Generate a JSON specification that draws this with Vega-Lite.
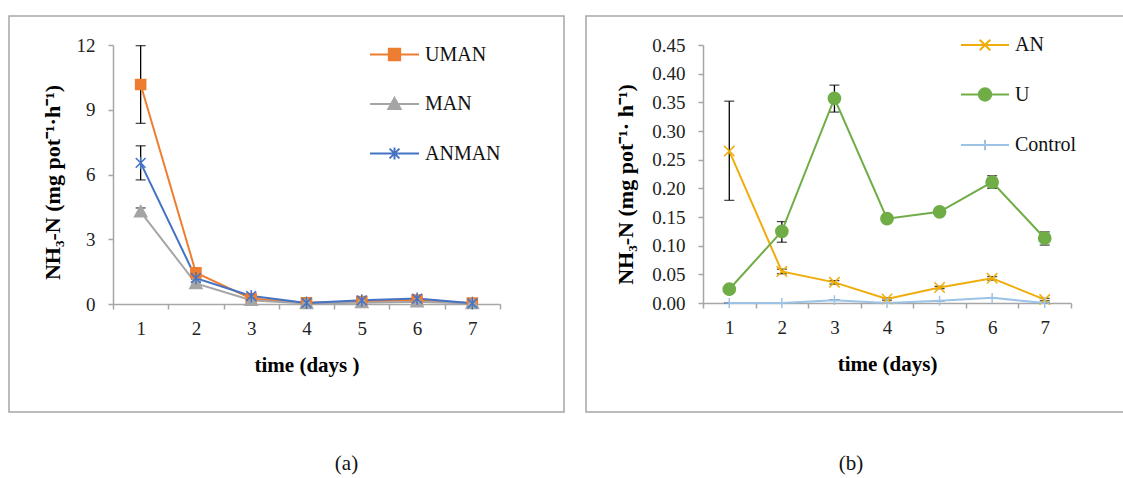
{
  "$schema": "https://vega.github.io/schema/vega-lite/v6.json",
  "padding": {"left": 8, "top": 15, "right": 0, "bottom": 0},
  "spacing": 20,
  "background": "white",
  "config": {
    "view": {"stroke": "#A6A6A6", "strokeWidth": 1.5},
    "axis": {
      "grid": false,
      "domainColor": "#A6A6A6",
      "domainWidth": 1.5,
      "tickColor": "#A6A6A6",
      "tickWidth": 1.5,
      "tickSize": 5,
      "labelFont": "Liberation Serif",
      "labelFontSize": 19,
      "labelColor": "#222222",
      "titleFont": "Liberation Serif",
      "titleFontSize": 21,
      "titleFontWeight": "bold",
      "titleColor": "#000000"
    },
    "legend": {
      "labelFont": "Liberation Serif",
      "labelFontSize": 20,
      "labelColor": "#111111",
      "padding": 0,
      "symbolStrokeWidth": 2,
      "symbolOpacity": 1
    }
  },
  "datasets": {
    "a": [
      {"series": "UMAN", "day": 1, "value": 10.17, "lo": 8.37, "hi": 11.97},
      {"series": "UMAN", "day": 2, "value": 1.45, "lo": 1.40, "hi": 1.50},
      {"series": "UMAN", "day": 3, "value": 0.25, "lo": 0.25, "hi": 0.25},
      {"series": "UMAN", "day": 4, "value": 0.06, "lo": 0.06, "hi": 0.06},
      {"series": "UMAN", "day": 5, "value": 0.12, "lo": 0.12, "hi": 0.12},
      {"series": "UMAN", "day": 6, "value": 0.18, "lo": 0.18, "hi": 0.18},
      {"series": "UMAN", "day": 7, "value": 0.04, "lo": 0.04, "hi": 0.04},
      {"series": "MAN", "day": 1, "value": 4.27, "lo": 4.09, "hi": 4.45},
      {"series": "MAN", "day": 2, "value": 0.95, "lo": 0.88, "hi": 1.02},
      {"series": "MAN", "day": 3, "value": 0.17, "lo": 0.17, "hi": 0.17},
      {"series": "MAN", "day": 4, "value": 0.02, "lo": 0.02, "hi": 0.02},
      {"series": "MAN", "day": 5, "value": 0.06, "lo": 0.06, "hi": 0.06},
      {"series": "MAN", "day": 6, "value": 0.10, "lo": 0.10, "hi": 0.10},
      {"series": "MAN", "day": 7, "value": 0.02, "lo": 0.02, "hi": 0.02},
      {"series": "ANMAN", "day": 1, "value": 6.54, "lo": 5.75, "hi": 7.33},
      {"series": "ANMAN", "day": 2, "value": 1.20, "lo": 1.15, "hi": 1.25},
      {"series": "ANMAN", "day": 3, "value": 0.37, "lo": 0.37, "hi": 0.37},
      {"series": "ANMAN", "day": 4, "value": 0.05, "lo": 0.05, "hi": 0.05},
      {"series": "ANMAN", "day": 5, "value": 0.17, "lo": 0.17, "hi": 0.17},
      {"series": "ANMAN", "day": 6, "value": 0.25, "lo": 0.25, "hi": 0.25},
      {"series": "ANMAN", "day": 7, "value": 0.03, "lo": 0.03, "hi": 0.03}
    ],
    "b": [
      {"series": "AN", "day": 1, "value": 0.265, "lo": 0.179, "hi": 0.352},
      {"series": "AN", "day": 2, "value": 0.055, "lo": 0.051, "hi": 0.059},
      {"series": "AN", "day": 3, "value": 0.036, "lo": 0.033, "hi": 0.039},
      {"series": "AN", "day": 4, "value": 0.007, "lo": 0.005, "hi": 0.009},
      {"series": "AN", "day": 5, "value": 0.027, "lo": 0.025, "hi": 0.029},
      {"series": "AN", "day": 6, "value": 0.043, "lo": 0.040, "hi": 0.046},
      {"series": "AN", "day": 7, "value": 0.006, "lo": 0.004, "hi": 0.008},
      {"series": "U", "day": 1, "value": 0.024, "lo": 0.021, "hi": 0.027},
      {"series": "U", "day": 2, "value": 0.125, "lo": 0.106, "hi": 0.142},
      {"series": "U", "day": 3, "value": 0.357, "lo": 0.333, "hi": 0.380},
      {"series": "U", "day": 4, "value": 0.147, "lo": 0.141, "hi": 0.153},
      {"series": "U", "day": 5, "value": 0.159, "lo": 0.154, "hi": 0.164},
      {"series": "U", "day": 6, "value": 0.211, "lo": 0.200, "hi": 0.222},
      {"series": "U", "day": 7, "value": 0.113, "lo": 0.101, "hi": 0.124},
      {"series": "Control", "day": 1, "value": 0.000, "lo": 0.000, "hi": 0.000},
      {"series": "Control", "day": 2, "value": 0.000, "lo": 0.000, "hi": 0.000},
      {"series": "Control", "day": 3, "value": 0.005, "lo": 0.005, "hi": 0.005},
      {"series": "Control", "day": 4, "value": 0.000, "lo": 0.000, "hi": 0.000},
      {"series": "Control", "day": 5, "value": 0.004, "lo": 0.004, "hi": 0.004},
      {"series": "Control", "day": 6, "value": 0.009, "lo": 0.009, "hi": 0.009},
      {"series": "Control", "day": 7, "value": 0.000, "lo": 0.000, "hi": 0.000}
    ]
  },
  "resolve": {"scale": {"color": "independent", "shape": "independent", "stroke": "independent"}, "legend": {"shape": "independent", "color": "independent", "stroke": "independent"}},
  "hconcat": [
    {
      "width": 555,
      "height": 396,
      "data": {"name": "a"},
      "title": {"text": "(a)", "orient": "bottom", "anchor": "middle", "dx": 60, "offset": 41, "fontSize": 21, "font": "Liberation Serif", "fontWeight": "normal", "color": "#111111"},
      "encoding": {
        "x": {
          "field": "day", "type": "ordinal", "bandPosition": 0.5,
          "scale": {"type": "band", "range": [104, 491], "paddingInner": 0, "paddingOuter": 0},
          "axis": {"title": "time (days )", "offset": -108, "tickBand": "extent", "labelAngle": 0, "labelPadding": 10, "titlePadding": 16}
        },
        "color": {"field": "series", "type": "nominal", "scale": {"domain": ["UMAN", "MAN", "ANMAN"], "range": ["#ED7D31", "#A5A5A5", "#4472C4"]}}
      },
      "layer": [
        {
          "mark": {"type": "rule", "color": "#000000", "strokeWidth": 1.3},
          "encoding": {
            "color": {"value": "#000000"},
            "y": {"field": "lo", "type": "quantitative", "scale": {"domain": [0, 12], "range": [288, 29], "nice": false, "zero": true},
              "axis": {"title": "NH₃-N  (mg pot⁻¹·h⁻¹)", "titleFontSize": 22, "offset": -104, "values": [0, 3, 6, 9, 12], "labelPadding": 13, "titlePadding": 12, "titleY": 166}},
            "y2": {"field": "hi"}
          }
        },
        {
          "mark": {"type": "tick", "thickness": 1.3, "size": 10},
          "encoding": {"color": {"value": "#000000"}, "y": {"field": "lo", "type": "quantitative"}}
        },
        {
          "mark": {"type": "tick", "thickness": 1.3, "size": 10},
          "encoding": {"color": {"value": "#000000"}, "y": {"field": "hi", "type": "quantitative"}}
        },
        {
          "mark": {"type": "line", "strokeWidth": 2},
          "encoding": {
            "y": {"field": "value", "type": "quantitative"},
            "order": {"field": "day"}
          }
        },
        {
          "mark": {"type": "point", "filled": true, "opacity": 0},
          "encoding": {
            "y": {"field": "value", "type": "quantitative"},
            "stroke": {"field": "series", "type": "nominal", "scale": {"domain": ["UMAN", "MAN", "ANMAN"], "range": ["#ED7D31", "#A5A5A5", "#4472C4"]}},
            "shape": {
              "field": "series", "type": "nominal",
              "scale": {"domain": ["UMAN", "MAN", "ANMAN"], "range": ["M-1,0H1M-0.23,-0.23H0.23V0.23H-0.23Z", "M-1,0H1M0,-0.25L0.25,0.2H-0.25Z", "M-1,0H1M-0.2,-0.2L0.2,0.2M-0.2,0.2L0.2,-0.2M0,-0.24V0.24"]},
              "legend": {"title": null, "orient": "none", "legendX": 360, "legendY": 13, "symbolSize": 2401, "rowPadding": 13.5, "labelOffset": 5, "symbolOpacity": 1, "symbolStrokeWidth": 2}
            }
          }
        },
        {
          "transform": [{"filter": "datum.series === 'UMAN'"}],
          "mark": {"type": "point", "filled": true, "size": 140, "strokeWidth": 1.5, "opacity": 1, "shape": "M-0.85,-0.85H0.85V0.85H-0.85Z", "stroke": "#ED7D31"},
          "encoding": {"y": {"field": "value", "type": "quantitative"}}
        },
        {
          "transform": [{"filter": "datum.series === 'MAN'"}],
          "mark": {"type": "point", "filled": true, "size": 150, "strokeWidth": 1.5, "opacity": 1, "shape": "M0,-1L1,0.8H-1Z", "stroke": "#A5A5A5"},
          "encoding": {"y": {"field": "value", "type": "quantitative"}}
        },
        {
          "transform": [{"filter": "datum.series === 'ANMAN'"}],
          "mark": {"type": "point", "filled": true, "size": 150, "strokeWidth": 1.5, "opacity": 1, "shape": "M-0.8,-0.8L0.8,0.8M-0.8,0.8L0.8,-0.8M0,-1V1", "stroke": "#4472C4"},
          "encoding": {"y": {"field": "value", "type": "quantitative"}}
        }
      ]
    },
    {
      "width": 542,
      "height": 396,
      "data": {"name": "b"},
      "title": {"text": "(b)", "orient": "bottom", "anchor": "middle", "dx": -6, "offset": 41, "fontSize": 21, "font": "Liberation Serif", "fontWeight": "normal", "color": "#111111"},
      "encoding": {
        "x": {
          "field": "day", "type": "ordinal", "bandPosition": 0.5,
          "scale": {"type": "band", "range": [117, 485], "paddingInner": 0, "paddingOuter": 0},
          "axis": {"title": "time (days)", "offset": -109, "tickBand": "extent", "labelAngle": 0, "labelPadding": 10, "titlePadding": 16}
        },
        "color": {"field": "series", "type": "nominal", "scale": {"domain": ["AN", "U", "Control"], "range": ["#EFAD0A", "#70AD47", "#9DC3E6"]}}
      },
      "layer": [
        {
          "mark": {"type": "rule", "strokeWidth": 1.3},
          "encoding": {
            "color": {"value": "#000000"},
            "y": {"field": "lo", "type": "quantitative", "scale": {"domain": [0, 0.45], "range": [287, 29], "nice": false, "zero": true},
              "axis": {"title": "NH₃-N  (mg pot⁻¹· h⁻¹)", "titleFontSize": 22, "offset": -117, "values": [0, 0.05, 0.1, 0.15, 0.2, 0.25, 0.3, 0.35, 0.4, 0.45], "format": ".2f", "labelPadding": 13, "titlePadding": 14, "titleY": 168}},
            "y2": {"field": "hi"}
          }
        },
        {
          "mark": {"type": "tick", "thickness": 1.3, "size": 10},
          "encoding": {"color": {"value": "#000000"}, "y": {"field": "lo", "type": "quantitative"}}
        },
        {
          "mark": {"type": "tick", "thickness": 1.3, "size": 10},
          "encoding": {"color": {"value": "#000000"}, "y": {"field": "hi", "type": "quantitative"}}
        },
        {
          "mark": {"type": "line", "strokeWidth": 2},
          "encoding": {
            "y": {"field": "value", "type": "quantitative"},
            "order": {"field": "day"}
          }
        },
        {
          "mark": {"type": "point", "filled": true, "opacity": 0},
          "encoding": {
            "y": {"field": "value", "type": "quantitative"},
            "stroke": {"field": "series", "type": "nominal", "scale": {"domain": ["AN", "U", "Control"], "range": ["#EFAD0A", "#70AD47", "#9DC3E6"]}},
            "shape": {
              "field": "series", "type": "nominal",
              "scale": {"domain": ["AN", "U", "Control"], "range": ["M-1,0H1M-0.22,-0.22L0.22,0.22M-0.22,0.22L0.22,-0.22", "M-1,0H1M0.26,0A0.26,0.26,0,1,1,-0.26,0A0.26,0.26,0,1,1,0.26,0Z", "M-1,0H1M0,-0.22V0.22"]},
              "legend": {"title": null, "orient": "none", "legendX": 374, "legendY": 4, "symbolSize": 2304, "rowPadding": 14.5, "labelOffset": 5, "symbolOpacity": 1, "symbolStrokeWidth": 2}
            }
          }
        },
        {
          "transform": [{"filter": "datum.series === 'AN'"}],
          "mark": {"type": "point", "filled": true, "size": 150, "strokeWidth": 1.5, "opacity": 1, "shape": "M-0.85,-0.85L0.85,0.85M-0.85,0.85L0.85,-0.85", "stroke": "#EFAD0A"},
          "encoding": {"y": {"field": "value", "type": "quantitative"}}
        },
        {
          "transform": [{"filter": "datum.series === 'U'"}],
          "mark": {"type": "point", "filled": true, "size": 150, "strokeWidth": 1.5, "opacity": 1, "shape": "M1,0A1,1,0,1,1,-1,0A1,1,0,1,1,1,0Z", "stroke": "#70AD47"},
          "encoding": {"y": {"field": "value", "type": "quantitative"}}
        },
        {
          "transform": [{"filter": "datum.series === 'Control'"}],
          "mark": {"type": "point", "filled": true, "size": 120, "strokeWidth": 1.5, "opacity": 1, "shape": "M0,-0.9V0.9M-0.9,0H0.9", "stroke": "#9DC3E6"},
          "encoding": {"y": {"field": "value", "type": "quantitative"}}
        }
      ]
    }
  ]
}
